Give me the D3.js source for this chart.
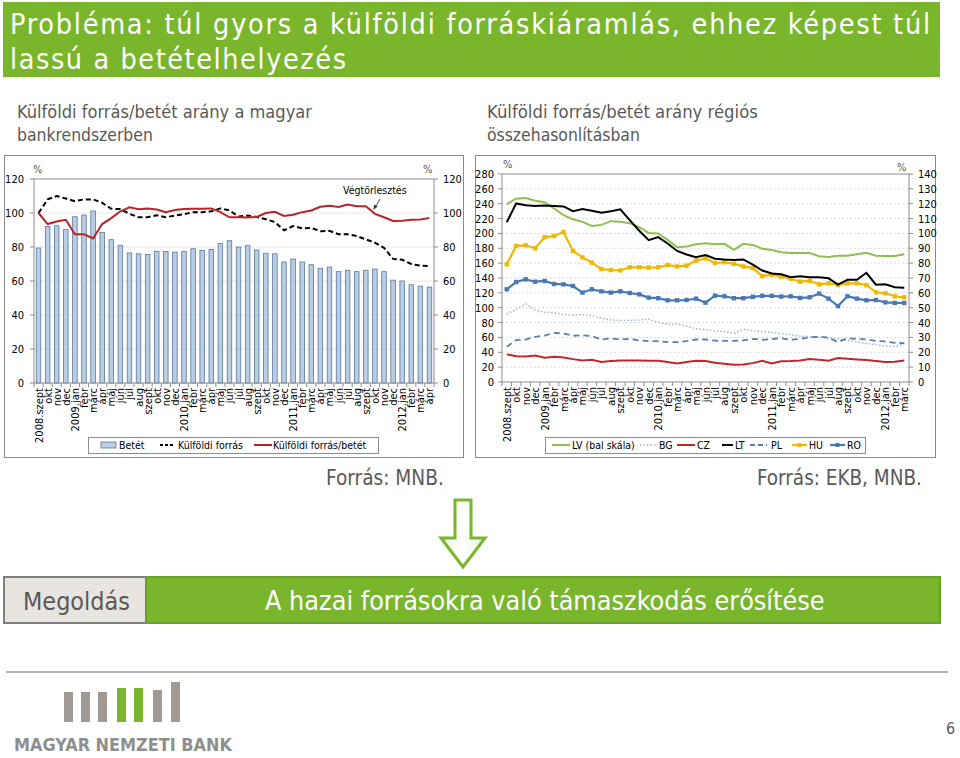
<!DOCTYPE html>
<html><head><meta charset="utf-8">
<script src="https://cdn.jsdelivr.net/npm/d3@7"></script>
<style>body{margin:0;background:#fff}svg{display:block}text{font-stretch:condensed}</style>
</head><body>
<svg id="c" width="960" height="758"></svg>
<script>
// ---------- DATA ----------
const leftCats = ["2008.szept","okt","nov","dec","2009.jan","febr","márc","ápr","máj","jún","júl","aug","szept","okt","nov","dec",
 "2010.jan","febr","márc","ápr","máj","jún","júl","aug","szept","okt","nov","dec",
 "2011.jan","febr","márc","ápr","máj","jún","júl","aug","szept","okt","nov","dec",
 "2012.jan","febr","márc","ápr"];
const betet = [79.4,92,92.5,90.2,97.8,98.8,101.2,88.6,84.3,81, 76.5,76,75.6,77.5,77.3,77,77.3,79,78,78.5,
 82,83.7,80,80.8,78.2,76.3,76,71.2,72.9,71.2, 69.6,67.5,68.2,65.5,66.3,65.5,66.3,67,65.5,60.5, 60,57.8,57,56.4];
const kulfoldiForras = [100,108,110,108.5,107,108,108,106,102.5,102.3, 99.5,97.5,97.5,98.7,97.5,98.5,99.3,100.5,100.5,101,
 102.7,101.5,98,98.5,97.7,96.3,94.7,89.8,92.3,91, 91.2,89.3,89.5,87.5,87.5,86.5,84.5,82.5,79.5,73, 72.5,70,69,68.7];
const forrasBetet = [100,93.5,95,96,87.5,87.5,85,93.5,97,101, 103.3,102.2,102.7,102,100.5,101.7,102.3,102.5,102.5,102.7,
 100.5,97.5,97.5,97.3,97.7,100,100.7,98.3,99,100.5, 101.5,103.7,104.3,103.5,105,104,104,99.5,97.5,95.3, 95.5,96,96.2,97];
const leftTicks = [0,20,40,60,80,100,120];

const rightCats = leftCats.slice(0,43);
const LV = [239.5,246.7,247.6,244,242,233.6,224.6,219,215.6,210, 211.5,216.5,215.6,213.8,208.4,200.7,200,191.3,181.3,182.3,
 185.4,186.7,185.4,186,178,186,184.5,179.5,177.7,174.6, 173.7,173.7,173.7,169.2,168.3,170,170,172,174,170, 169.6,169.6,172];
const BG = [45.8,49,52.5,48.3,47,46.7,45.4,45,45.4,44.7, 42.9,41.8,41.4,41.4,41.8,42.3,40.2,38.7,39.1,37.6,
 35.8,35.3,34.2,34,32.7,35.5,34.5,34,33.4,32.5, 31.8,30.9,30.5,30.2,29.5,28.9,28.2,27,25.9,25.2, 24.3,23.9,25.7];
const CZ = [18.6,17.4,17.2,17.9,16.3,17,16.5,15.4,14.5,15, 13.4,14.1,14.5,14.5,14.5,14.3,14.3,13.4,12.5,13.4,
 14.3,14.1,12.9,12.3,11.6,11.8,12.7,14.3,12.5,13.9, 14.1,14.5,15.5,15,14.3,16.1,15.7,15.2,14.8,14.1, 13.4,13.6,14.5];
const LT = [107.5,120.2,119,118.5,118.8,118.5,118.2,115,116.5,115.2, 114,115,116.2,109,101.8,95.5,97.5,93.2,88.2,85.8,
 84,85.5,83,82.5,82.2,82.5,79,75,73,72.5, 70.5,71.2,70.5,70.5,69.8,65.5,68.8,68.8,73.5,65.5, 65.8,63.8,63.5];
const PL = [23.7,28.2,28.6,30.4,31.3,33.1,32.6,31.1,31.5,30.9, 28.6,29.3,28.6,29.1,28,27.5,27.5,26.8,26.8,27.5,
 28.6,28.6,27.8,27.7,27.7,28,29,28.4,28.9,29.5, 28.4,29.1,30,30.5,29.8,26.8,29.5,29,28.6,27.7, 27.3,26.4,26.1];
const HU = [79.2,91.6,92,90,97.4,98.3,101,88.2,83.9,80.3, 76,75.4,75.1,77.2,77.2,77,77.2,78.7,77.8,78.3,
 81.7,83.2,80.1,80.6,79.5,77.8,76.7,71.3,72.2,70.9, 69.5,67.5,68,65.7,66.4,65.3,66.4,66.4,65.3,60.4, 59.7,57.7,57];
const RO = [62.4,67.3,69.1,67.5,68,66,65.7,64.6,60.2,62.4, 61,60.2,61,59.9,59,56.8,56.4,55,55,55.2,
 56.1,53.4,58.1,57.7,56.4,56.4,57.3,58,58,57.5, 57.7,56.6,57,59.5,56.1,51.1,57.7,56.1,55,55.2, 53.6,53.2,53.2];
const rightLeftTicks = [0,20,40,60,80,100,120,140,160,180,200,220,240,260,280];
const rightRightTicks = [0,10,20,30,40,50,60,70,80,90,100,110,120,130,140];

// ---------- DRAW ----------
const F = "'DejaVu Sans Condensed','Liberation Sans Narrow','DejaVu Sans',sans-serif";
const svg = d3.select("#c");
const GREEN = "#7ab62c";
function fit(sel, w){ const n=sel.node(); const fs=parseFloat(sel.attr("font-size")); const l=n.getComputedTextLength(); if(l>0) sel.attr("font-size", fs*w/l); return sel; }
function spread(sel, w){ const l=sel.node().getComputedTextLength(); if(l>0 && l<w) sel.attr("textLength",w).attr("lengthAdjust","spacing"); return sel; }

// title
svg.append("rect").attr("x",3).attr("y",2).attr("width",937).attr("height",75).attr("fill",GREEN);
spread(svg.append("text").attr("x",10).attr("y",34).attr("fill","#fff").attr("font-family",F).attr("font-size",28.5)
  .text("Probléma: túl gyors a külföldi forráskiáramlás, ehhez képest túl"), 920);
spread(svg.append("text").attr("x",10).attr("y",69).attr("fill","#fff").attr("font-family",F).attr("font-size",28.5)
  .text("lassú a betételhelyezés"), 336);
const sub = (x,y,t,w)=>fit(svg.append("text").attr("x",x).attr("y",y).attr("fill","#595959").attr("font-family",F).attr("font-size",19).text(t),w);
sub(17,118,"Külföldi forrás/betét arány a magyar",295);
sub(17,141,"bankrendszerben",136);
sub(487,118,"Külföldi forrás/betét arány régiós",271);
sub(487,141,"összehasonlításban",153);

// boxes
svg.append("rect").attr("x",4.5).attr("y",155.5).attr("width",459).attr("height",302).attr("fill","none").attr("stroke","#8a8a8a");
svg.append("rect").attr("x",475.5).attr("y",155.5).attr("width",460).attr("height",302).attr("fill","none").attr("stroke","#8a8a8a");

function xAxis(g, x, cats, y0){
  g.append("line").attr("x1",x.range()[0]).attr("x2",x.range()[1]).attr("y1",y0).attr("y2",y0).attr("stroke","#8c8c8c");
  for(let i=0;i<=cats.length;i++){
    const xx = x.range()[0] + (x.range()[1]-x.range()[0])*i/cats.length;
    g.append("line").attr("x1",xx).attr("x2",xx).attr("y1",y0).attr("y2",y0+4).attr("stroke","#8c8c8c");
  }
  cats.forEach((c,i)=>{
    const cx = x(i)+x.bandwidth()/2;
    g.append("text").attr("transform",`translate(${cx+4},${y0+5}) rotate(-90)`).attr("text-anchor","end")
      .attr("font-family",F).attr("font-size",11).attr("fill","#000").text(c);
  });
}
function yAxis(g, y, ticks, x0, side, x1){
  g.append("line").attr("x1",x0).attr("x2",x0).attr("y1",y.range()[0]).attr("y2",y.range()[1]).attr("stroke","#8c8c8c");
  ticks.forEach(t=>{
    const yy=y(t);
    g.append("line").attr("x1",x0).attr("x2",x0+(side<0?-4:4)).attr("y1",yy).attr("y2",yy).attr("stroke","#8c8c8c");
    g.append("text").attr("x",x1).attr("y",yy+4).attr("text-anchor",side<0?"end":"start")
      .attr("font-family",F).attr("font-size",11).attr("fill","#000").text(t);
  });
}

// ---- left chart ----
{
  const g = svg.append("g");
  const x = d3.scaleBand().domain(d3.range(leftCats.length)).range([34,434]).paddingInner(0.5).paddingOuter(0.25);
  const y = d3.scaleLinear().domain([0,120]).range([383,179]);
  leftTicks.slice(1).forEach(t=>g.append("line").attr("x1",34).attr("x2",434).attr("y1",y(t)).attr("y2",y(t))
     .attr("stroke", t===120?"#8c8c8c":"#e8e8e8"));
  g.selectAll("rect.b").data(betet).join("rect").attr("x",(d,i)=>x(i)).attr("width",x.bandwidth())
    .attr("y",d=>y(d)).attr("height",d=>y(0)-y(d)).attr("fill","#b9cde5").attr("stroke","#5b7799").attr("stroke-width",0.8);
  const cx = i=>x(i)+x.bandwidth()/2;
  const line = d3.line().x((d,i)=>cx(i)).y(d=>y(d));
  g.append("path").attr("d",line(kulfoldiForras)).attr("fill","none").attr("stroke","#000").attr("stroke-width",2).attr("stroke-dasharray","5,3");
  g.append("path").attr("d",line(forrasBetet)).attr("fill","none").attr("stroke","#b8242a").attr("stroke-width",2);
  yAxis(g,y,leftTicks,34,-1,24);
  yAxis(g,y,leftTicks,434,1,443);
  xAxis(g,x,leftCats,383);
  g.append("text").attr("x",33).attr("y",173).attr("font-family",F).attr("font-size",11).attr("fill","#555").text("%");
  g.append("text").attr("x",423).attr("y",173).attr("font-family",F).attr("font-size",11).attr("fill","#555").text("%");
  g.append("text").attr("x",343).attr("y",194).attr("font-family",F).attr("font-size",10.5).attr("fill","#000").text("Végtörlesztés");
  g.append("line").attr("x1",380).attr("y1",199).attr("x2",375.5).attr("y2",207).attr("stroke","#333").attr("stroke-width",0.8);
  g.append("path").attr("d","M373.5,210 L374,204.5 L377.5,206.5 Z").attr("fill","#333");
  // legend
  const L = g.append("g");
  L.append("rect").attr("x",88.5).attr("y",437.5).attr("width",290).attr("height",16).attr("fill","#fff").attr("stroke","#8c8c8c");
  L.append("rect").attr("x",101).attr("y",442).attr("width",15).attr("height",6).attr("fill","#b9cde5").attr("stroke","#5b7799").attr("stroke-width",0.8);
  L.append("text").attr("x",119).attr("y",449).attr("font-family",F).attr("font-size",10.5).text("Betét");
  L.append("line").attr("x1",160).attr("x2",175).attr("y1",445).attr("y2",445).attr("stroke","#000").attr("stroke-width",2).attr("stroke-dasharray","3,2");
  L.append("text").attr("x",178).attr("y",449).attr("font-family",F).attr("font-size",10.5).text("Külföldi forrás");
  L.append("line").attr("x1",254).attr("x2",272).attr("y1",445).attr("y2",445).attr("stroke","#b8242a").attr("stroke-width",2);
  L.append("text").attr("x",273).attr("y",449).attr("font-family",F).attr("font-size",10.5).text("Külföldi forrás/betét");
}

// ---- right chart ----
{
  const g = svg.append("g");
  const x = d3.scaleBand().domain(d3.range(rightCats.length)).range([502,909]).paddingInner(0.5).paddingOuter(0.25);
  const yL = d3.scaleLinear().domain([0,280]).range([382,174]);
  const yR = d3.scaleLinear().domain([0,140]).range([382,174]);
  rightLeftTicks.slice(1).forEach(t=>g.append("line").attr("x1",502).attr("x2",909).attr("y1",yL(t)).attr("y2",yL(t))
     .attr("stroke", t===280?"#8c8c8c":"#dcdcdc").attr("stroke-dasharray", t===280?null:"2,2"));
  const cx = i=>x(i)+x.bandwidth()/2;
  const lineL = d3.line().x((d,i)=>cx(i)).y(d=>yL(d));
  const lineR = d3.line().x((d,i)=>cx(i)).y(d=>yR(d));
  const series = [
    {name:"LV (bal skála)", data:LV, gen:lineL, color:"#8dc04f", w:2, dash:null, mark:false},
    {name:"BG", data:BG, gen:lineR, color:"#9fb3cf", w:1.5, dash:"1.5,2", mark:false},
    {name:"CZ", data:CZ, gen:lineR, color:"#c0262c", w:2, dash:null, mark:false},
    {name:"LT", data:LT, gen:lineR, color:"#000", w:2, dash:null, mark:false},
    {name:"PL", data:PL, gen:lineR, color:"#5b7fac", w:1.8, dash:"6,4", mark:false},
    {name:"HU", data:HU, gen:lineR, color:"#f1b800", w:2.2, dash:null, mark:true},
    {name:"RO", data:RO, gen:lineR, color:"#4a78b0", w:2.2, dash:null, mark:true}
  ];
  const order = ["BG","PL","CZ","LV (bal skála)","RO","HU","LT"];
  order.forEach(n=>{
    const s = series.find(d=>d.name===n);
    g.append("path").attr("d",s.gen(s.data)).attr("fill","none").attr("stroke",s.color).attr("stroke-width",s.w).attr("stroke-dasharray",s.dash);
    if(s.mark){
      const yy = s.gen===lineL?yL:yR;
      g.selectAll(null).data(s.data).join("rect").attr("x",(d,i)=>cx(i)-2.2).attr("y",d=>yy(d)-2.2).attr("width",4.4).attr("height",4.4).attr("fill",s.color);
    }
  });
  yAxis(g,yL,rightLeftTicks,502,-1,494);
  yAxis(g,yR,rightRightTicks,909,1,918);
  xAxis(g,x,rightCats,382);
  g.append("text").attr("x",503).attr("y",168).attr("font-family",F).attr("font-size",11).attr("fill","#555").text("%");
  g.append("text").attr("x",897).attr("y",171).attr("font-family",F).attr("font-size",11).attr("fill","#555").text("%");
  // legend
  const L = g.append("g");
  L.append("rect").attr("x",545.5).attr("y",437.5).attr("width",320).attr("height",16).attr("fill","#fff").attr("stroke","#8c8c8c");
  const pos = [[552,570,572],[640,657,659],[677,695,697],[722,733,735],[750,767,771],[792,807,809],[830,845,847]];
  series.forEach((s,k)=>{
    const [a,b,t]=pos[k];
    L.append("line").attr("x1",a).attr("x2",b).attr("y1",445).attr("y2",445).attr("stroke",s.color).attr("stroke-width",s.w).attr("stroke-dasharray",s.dash?(s.name==="PL"?"5,3":s.dash):null);
    if(s.mark) L.append("rect").attr("x",(a+b)/2-2).attr("y",443).attr("width",4).attr("height",4).attr("fill",s.color);
    L.append("text").attr("x",t).attr("y",449).attr("font-family",F).attr("font-size",10.5).text(s.name);
  });
}

// sources
fit(svg.append("text").attr("x",326).attr("y",485).attr("font-family",F).attr("font-size",18).attr("fill","#595959").text("Forrás: MNB."),118);
fit(svg.append("text").attr("x",757).attr("y",485).attr("font-family",F).attr("font-size",18).attr("fill","#595959").text("Forrás: EKB, MNB."),165);

// arrow
const defs = svg.append("defs");
const gr = defs.append("linearGradient").attr("id","ag").attr("x1",0).attr("x2",1).attr("y1",0).attr("y2",0);
gr.append("stop").attr("offset","0%").attr("stop-color","#e9f2dc");
gr.append("stop").attr("offset","50%").attr("stop-color","#ffffff");
gr.append("stop").attr("offset","100%").attr("stop-color","#e9f2dc");
svg.append("path").attr("d","M455,500 L471,500 L471,538 L485,538 L463,567 L441,538 L455,538 Z")
  .attr("fill","url(#ag)").attr("stroke",GREEN).attr("stroke-width",3).attr("stroke-linejoin","miter");

// solution bar
svg.append("rect").attr("x",4).attr("y",577).attr("width",142).attr("height",46).attr("fill","#e8e4e0").attr("stroke","#7f7f7f").attr("stroke-width",2);
svg.append("rect").attr("x",146).attr("y",577).attr("width",794).attr("height",46).attr("fill",GREEN).attr("stroke","#6a9e2a").attr("stroke-width",2);
fit(svg.append("text").attr("x",23).attr("y",610).attr("font-family",F).attr("font-size",24).attr("fill","#595959").text("Megoldás"),107);
fit(svg.append("text").attr("x",265).attr("y",610).attr("font-family",F).attr("font-size",24).attr("fill","#fff").text("A hazai forrásokra való támaszkodás erősítése"),560);

// footer
svg.append("line").attr("x1",6).attr("x2",948).attr("y1",672).attr("y2",672).attr("stroke","#9a9a9a").attr("stroke-width",1.5);
const bars = [[64,"#a19a94",692],[81,"#a19a94",692],[98,"#a19a94",692],[117,GREEN,688],[134,GREEN,688],[153,"#a19a94",690],[171,"#a19a94",682]];
bars.forEach(([bx,c,top])=>svg.append("rect").attr("x",bx).attr("y",top).attr("width",9).attr("height",722-top).attr("fill",c));
fit(svg.append("text").attr("x",14).attr("y",751).attr("font-family",F).attr("font-size",16).attr("font-weight","bold").attr("fill","#8e8e8e").text("MAGYAR NEMZETI BANK"),218);
svg.append("text").attr("x",946).attr("y",734).attr("font-family",F).attr("font-size",16).attr("fill","#595959").text("6");
</script>
</body></html>
